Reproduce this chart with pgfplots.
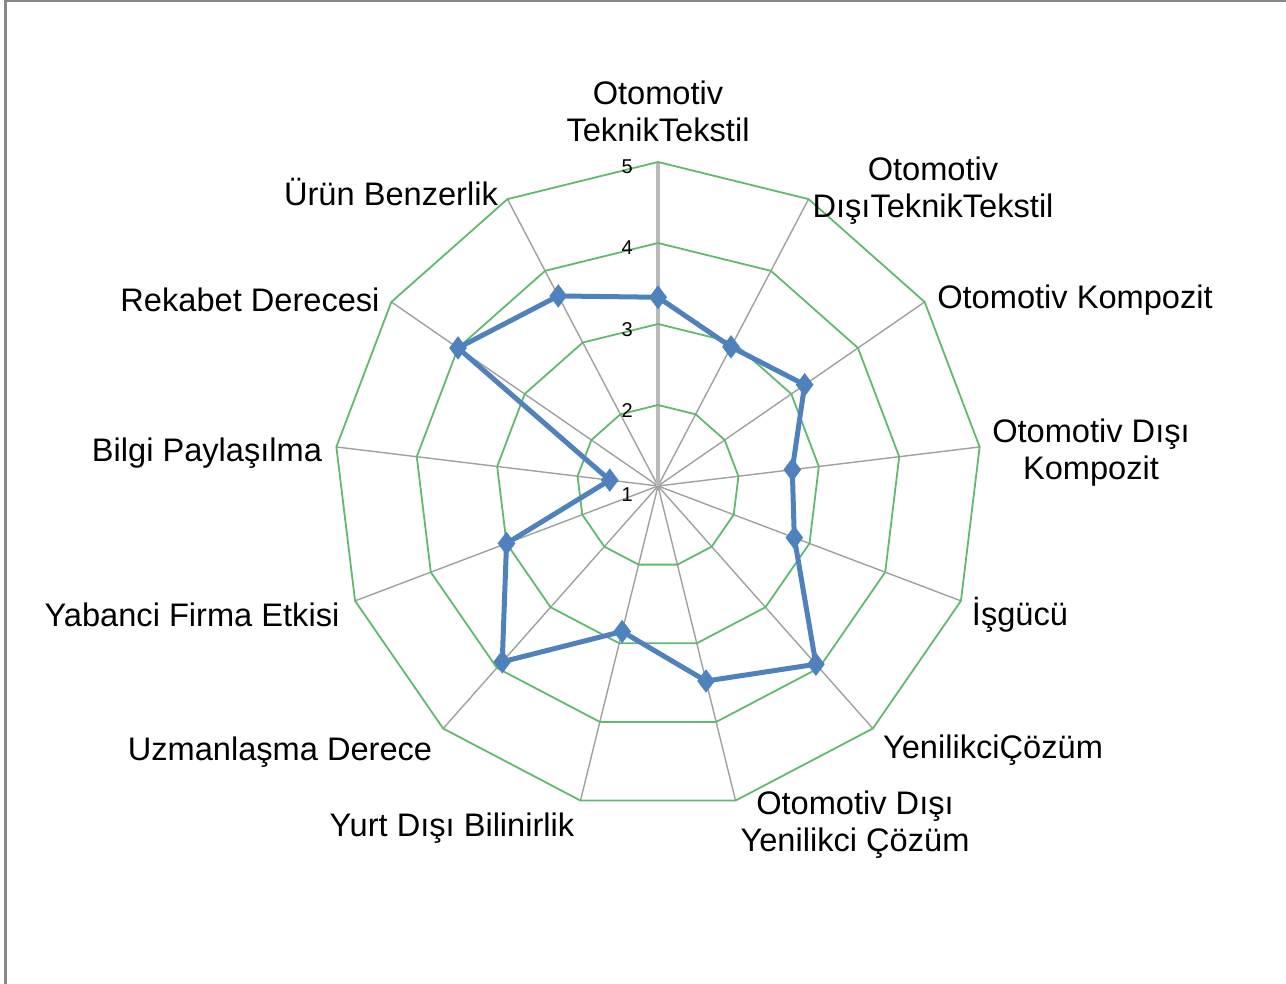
\documentclass[border=0pt]{standalone}
\usepackage{fontspec}
\setmainfont{Liberation Sans}
\usepackage{pgfplots}
\pgfplotsset{compat=1.18}
\usepackage{pgfplotstable}
\definecolor{gridgreen}{RGB}{95,185,110}
\definecolor{spoke}{RGB}{160,160,160}
\definecolor{topspoke}{RGB}{185,185,185}
\definecolor{series}{RGB}{79,129,189}
\definecolor{frame}{RGB}{135,135,135}

% angle (deg), value (1..5)
\pgfplotstableread{
a v
90 3.33
62.3077 2.94
34.6154 3.20
6.9231 2.67
-20.7692 2.80
-48.4615 3.94
-76.1538 3.48
-103.8462 2.85
-131.5385 3.90
-159.2308 3.00
173.0769 1.60
145.3846 4.00
117.6923 3.65
90 3.33
}\data

\pgfplotstableread{
a r
90 4
62.3077 4
34.6154 4
6.9231 4
-20.7692 4
-48.4615 4
-76.1538 4
-103.8462 4
-131.5385 4
-159.2308 4
173.0769 4
145.3846 4
117.6923 4
90 4
}\angles

\pgfplotstableread{
a r
62.3077 4
34.6154 4
6.9231 4
-20.7692 4
-48.4615 4
-76.1538 4
-103.8462 4
-131.5385 4
-159.2308 4
173.0769 4
145.3846 4
117.6923 4
}\spokes

\begin{document}
\begin{tikzpicture}
\useasboundingbox (0,0) rectangle (643pt,-492pt);
\begin{axis}[at={(329pt,-243pt)}, anchor=origin,
  x=40.5pt, y=40.5pt, xmin=-4.5, xmax=4.5, ymin=-4.5, ymax=4.5,
  hide axis, clip=false]
  % spokes
  \addplot[spoke, line width=0.7pt, -, no marks,
    quiver={u={\thisrow{r}*cos(\thisrow{a})}, v={\thisrow{r}*sin(\thisrow{a})}}]
    table[x expr=0, y expr=0] {\spokes};
  \addplot[topspoke, line width=1.8pt, no marks] coordinates {(0,0) (0,4)};
  % polygonal grid
  \pgfplotsinvokeforeach{1,2,3,4}{
    \addplot[gridgreen, line width=0.9pt, no marks]
      table[x expr={#1*cos(\thisrow{a})}, y expr={#1*sin(\thisrow{a})}] {\angles};
  }
  % series
  \addplot[series, line width=2.5pt, mark=diamond*, mark size=3.8pt,
    mark options={solid}]
    table[x expr={(\thisrow{v}-1)*cos(\thisrow{a})},
          y expr={(\thisrow{v}-1)*sin(\thisrow{a})}] {\data};
  % radial tick labels
  \node[font=\fontsize{10}{12}\selectfont, inner sep=0pt] at (axis cs:-0.38,3.94) {5};
  \node[font=\fontsize{10}{12}\selectfont, inner sep=0pt] at (axis cs:-0.38,2.94) {4};
  \node[font=\fontsize{10}{12}\selectfont, inner sep=0pt] at (axis cs:-0.38,1.93) {3};
  \node[font=\fontsize{10}{12}\selectfont, inner sep=0pt] at (axis cs:-0.38,0.93) {2};
  \node[font=\fontsize{10}{12}\selectfont, inner sep=0pt] at (axis cs:-0.38,-0.11) {1};
\end{axis}
\begin{scope}[x=0.5pt, y=-0.5pt, every node/.style={font={\fontsize{16.3}{18.5}\selectfont}, align=center, inner sep=0pt, text=black}]
  \node at (658,111) {Otomotiv\\TeknikTekstil};
  \node at (933,191) {Otomotiv\\DışıTeknikTekstil};
  \node at (1075,300) {Otomotiv Kompozit};
  \node at (1091,453) {Otomotiv Dışı\\Kompozit};
  \node at (1020,615) {İşgücü};
  \node at (993,750) {YenilikciÇözüm};
  \node at (855,825) {Otomotiv Dışı\\Yenilikci Çözüm};
  \node at (452,828) {Yurt Dışı Bilinirlik};
  \node at (280,752) {Uzmanlaşma Derece};
  \node at (192,615) {Yabanci Firma Etkisi};
  \node at (207,453) {Bilgi Paylaşılma};
  \node at (250,300) {Rekabet Derecesi};
  \node at (391,192) {Ürün Benzerlik};
  \draw[frame, line width=1.2pt] (5.5,984) -- (5.5,0.8) -- (1286,0.8);
\end{scope}
\end{tikzpicture}
\end{document}
